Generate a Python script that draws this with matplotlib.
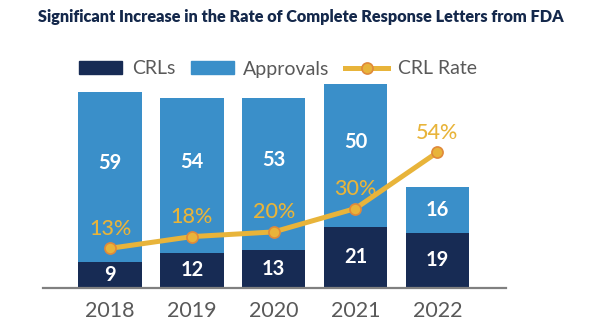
import matplotlib
matplotlib.use("Agg")
import matplotlib.pyplot as plt
from matplotlib.lines import Line2D
from matplotlib.patches import Patch

years = ["2018", "2019", "2020", "2021", "2022"]
crls = [9, 12, 13, 21, 19]
approvals = [59, 54, 53, 50, 16]
crl_rate = [13, 18, 20, 30, 54]

NAVY = "#172B54"
BLUE = "#3A8FC9"
GOLD = "#E8B43A"
ORANGE = "#E0893A"
GRAY = "#595959"

plt.rcParams['font.family'] = ['Lato', 'DejaVu Sans']

fig = plt.figure(figsize=(6.02, 3.33), dpi=100)
ax = fig.add_axes([43/602, 45.5/333, 463/602, 207.5/333])
x = list(range(len(years)))
w = 0.777
ax.bar(x, crls, width=w, color=NAVY, zorder=2)
ax.bar(x, approvals, width=w, bottom=crls, color=BLUE, zorder=2)
ax.set_xlim(-0.82, 4.84)
ax.set_ylim(0, 207.5/2.87)

for xi, c, a in zip(x, crls, approvals):
    ax.text(xi, c/2, str(c), ha='center', va='center', color='white',
            fontsize=14.5, fontweight='bold', zorder=3)
    off = 10 if a > 30 else 0
    ax.annotate(str(a), (xi, c + a/2), xytext=(0, off), textcoords='offset points',
                ha='center', va='center', color='white', fontsize=14.5,
                fontweight='bold', zorder=3)

for s in ['top', 'right', 'left']:
    ax.spines[s].set_visible(False)
ax.spines['bottom'].set_color('#808080')
ax.spines['bottom'].set_linewidth(1.6)
ax.set_yticks([])
ax.set_xticks(x)
ax.set_xticklabels(years, fontsize=15.5, color=GRAY)
ax.tick_params(axis='x', length=0, pad=10)

ax2 = ax.twinx()
ax2.set_position(ax.get_position())
ax2.plot(x, crl_rate, color=GOLD, lw=3.6, marker='o', markersize=8,
         markerfacecolor=GOLD, markeredgecolor=ORANGE, markeredgewidth=1.2, zorder=4)
lo = -3.74
ax2.set_ylim(lo, lo + 207.5/2.341)
for xi, r in zip(x, crl_rate):
    ax2.annotate(f"{r}%", (xi, r), xytext=(0, 14), textcoords='offset points',
                 ha='center', va='center', color=GOLD, fontsize=15.5,
                 fontweight='medium', zorder=5)
ax2.axis('off')

fig.text(0.5, 1 - 17/333, "Significant Increase in the Rate of Complete Response Letters from FDA",
         ha='center', va='center', fontsize=11.7, fontweight='heavy', color="#14284B")

handles = [Patch(color=NAVY), Patch(color=BLUE),
           Line2D([0], [0], color=GOLD, lw=3.6, marker='o', markersize=8,
                  markerfacecolor=GOLD, markeredgecolor=ORANGE, markeredgewidth=1.2)]
fig.legend(handles, ["CRLs", "Approvals", "CRL Rate"], loc='center',
           bbox_to_anchor=(278/602, 1 - 69/333), ncol=3, frameon=False,
           fontsize=14, handlelength=2.2, handleheight=0.6, columnspacing=0.8,
           handletextpad=0.5, labelcolor=GRAY)

fig.savefig("out.png", dpi=100)
